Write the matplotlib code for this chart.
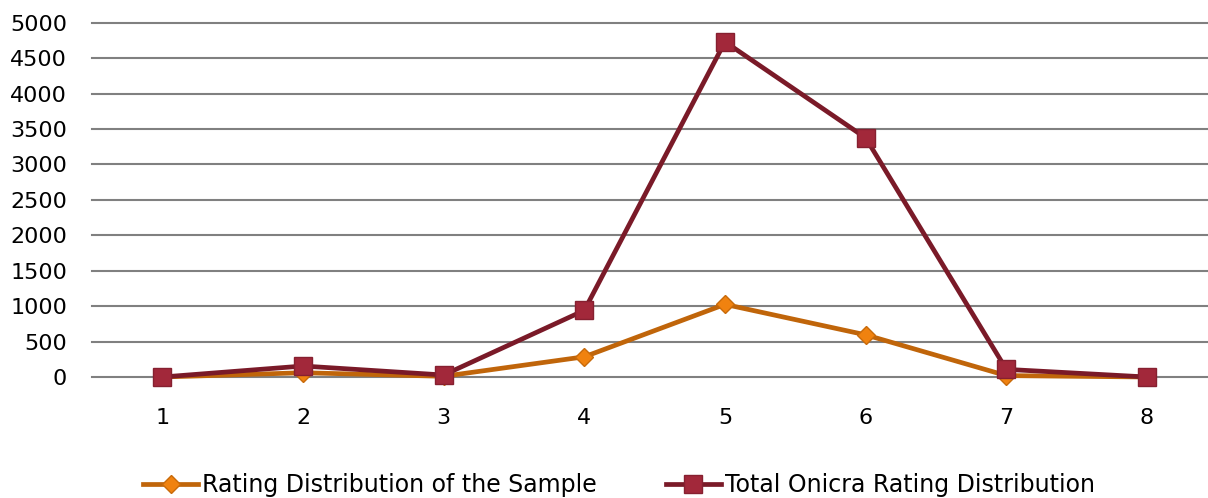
import matplotlib
matplotlib.use("Agg")
import matplotlib.pyplot as plt

ratings = [1, 2, 3, 4, 5, 6, 7, 8]
sample_dist = [0, 60, 10, 285, 1025, 595, 20, 0]
total_dist = [0, 155, 28, 940, 4730, 3375, 108, 0]

plt.rcParams['font.family'] = ['DejaVu Sans']

fig = plt.figure(figsize=(12.08, 4.98), dpi=100)
ax = fig.add_axes([92 / 1208, 121 / 498, 1116 / 1208, 354.3 / 498])

ax.plot(ratings, sample_dist, color='#C0650A', linewidth=3.4, marker='D',
        markersize=9, markerfacecolor='#F0820F', markeredgecolor='#C86A0A',
        markeredgewidth=1, clip_on=False, zorder=3,
        label='Rating Distribution of the Sample')
ax.plot(ratings, total_dist, color='#7A1A28', linewidth=3.4, marker='s',
        markersize=13.5, markerfacecolor='#A2283A', markeredgecolor='#862030',
        markeredgewidth=1, clip_on=False, zorder=4,
        label='Total Onicra Rating Distribution')

ax.set_xlim(0.5, 8.434)
ax.set_ylim(0, 5000)
ax.set_yticks(range(0, 5001, 500))
ax.set_xticks(ratings)
ax.grid(axis='y', color='#808080', linewidth=1.5)
for gl in ax.get_ygridlines():
    gl.set_clip_on(False)
ax.set_axisbelow(True)
for s in ax.spines.values():
    s.set_visible(False)
ax.tick_params(length=0, labelsize=16, colors='black')
ax.tick_params(axis='y', pad=18)
ax.tick_params(axis='x', pad=22)

fig.legend(loc='center', bbox_to_anchor=(619 / 1208, 1 - 485 / 498), ncol=2,
           frameon=False, fontsize=17, handlelength=2.33, handletextpad=0.17,
           columnspacing=2.9, numpoints=1)

fig.savefig('out.png', dpi=100)
